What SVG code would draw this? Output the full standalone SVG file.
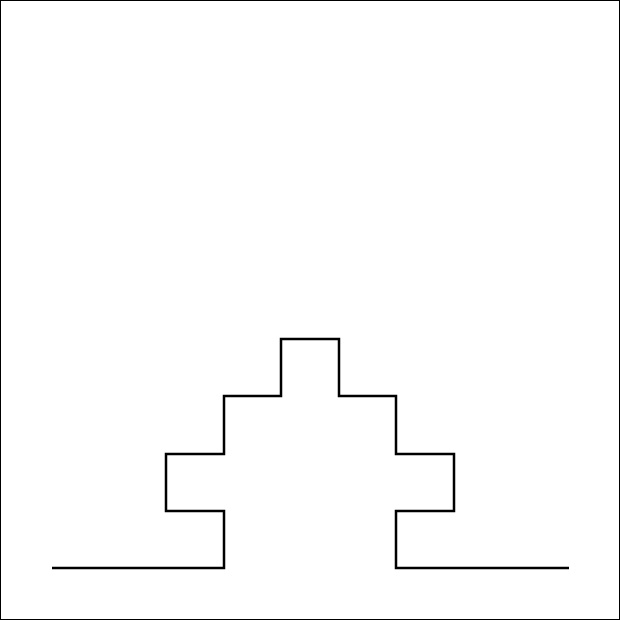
<svg xmlns="http://www.w3.org/2000/svg" width="620" height="620" viewBox="0 0 620 620">
<style>.curve{fill:none;stroke:#000;stroke-width:2.5;stroke-linejoin:miter}</style>
<rect x="0.5" y="0.5" width="619" height="619" fill="#fff" stroke="#000" stroke-width="1"/>
<g id="connectors">
<polyline class="curve" points="52,568 224,568 224,511 166,511 166,454 224,454 224,396 281,396 281,339 339,339 339,396 396,396 396,454 454,454 454,511 396,511 396,568 569,568"/>
</g>
</svg>
